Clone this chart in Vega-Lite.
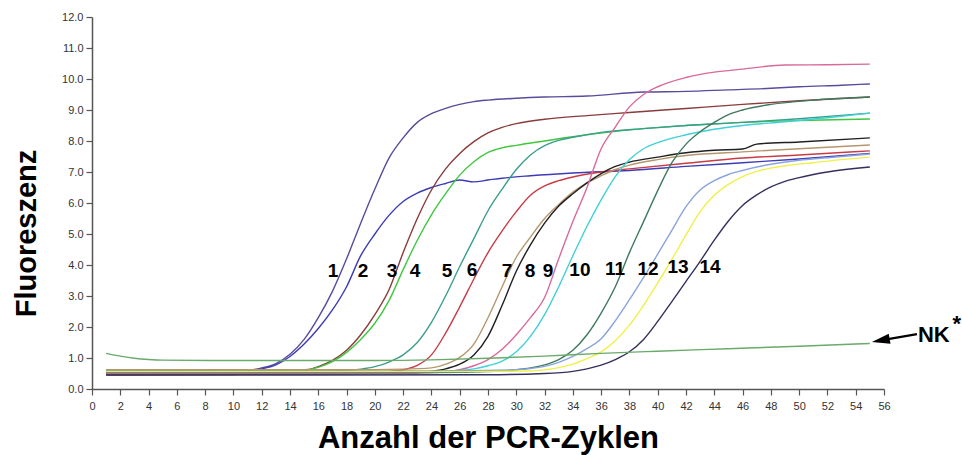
{
  "$schema": "https://vega.github.io/schema/vega-lite/v6.json",
  "width": 792,
  "height": 372,
  "autosize": {"type": "none"},
  "padding": {"left": 92, "top": 17, "right": 78, "bottom": 66},
  "background": "white",
  "config": {
    "view": {"stroke": null},
    "font": "Liberation Sans",
    "axis": {
      "grid": false,
      "domainColor": "#555555",
      "domainWidth": 1.5,
      "tickColor": "#555555",
      "tickWidth": 1.2,
      "tickSize": 6,
      "labelFont": "Liberation Sans",
      "labelFontSize": 11,
      "labelColor": "#333333",
      "labelFlush": false,
      "labelOverlap": false,
      "titleFont": "Liberation Sans",
      "titleFontWeight": "bold",
      "titleColor": "#000000"
    }
  },
  "datasets": {
    "curves": [
      {"id":"1","cyc":1,"fl":0.55},{"id":"1","cyc":8,"fl":0.55},{"id":"1","cyc":11,"fl":0.6},{"id":"1","cyc":12,"fl":0.68},{"id":"1","cyc":13,"fl":0.82},{"id":"1","cyc":14,"fl":1.12},{"id":"1","cyc":15,"fl":1.6},{"id":"1","cyc":16,"fl":2.3},{"id":"1","cyc":17,"fl":3.15},{"id":"1","cyc":18,"fl":4.2},{"id":"1","cyc":19,"fl":5.35},{"id":"1","cyc":20,"fl":6.45},{"id":"1","cyc":21,"fl":7.45},{"id":"1","cyc":22,"fl":8.1},{"id":"1","cyc":23,"fl":8.6},{"id":"1","cyc":24,"fl":8.88},{"id":"1","cyc":25,"fl":9.05},{"id":"1","cyc":26,"fl":9.18},{"id":"1","cyc":27,"fl":9.27},{"id":"1","cyc":28,"fl":9.32},{"id":"1","cyc":30,"fl":9.38},{"id":"1","cyc":32,"fl":9.42},{"id":"1","cyc":35,"fl":9.45},{"id":"1","cyc":39,"fl":9.58},{"id":"1","cyc":42,"fl":9.6},{"id":"1","cyc":45,"fl":9.65},{"id":"1","cyc":48,"fl":9.7},{"id":"1","cyc":50,"fl":9.75},{"id":"1","cyc":53,"fl":9.8},{"id":"1","cyc":55,"fl":9.84},
      {"id":"2","cyc":1,"fl":0.52},{"id":"2","cyc":8,"fl":0.52},{"id":"2","cyc":11,"fl":0.58},{"id":"2","cyc":12,"fl":0.65},{"id":"2","cyc":13,"fl":0.78},{"id":"2","cyc":14,"fl":1.05},{"id":"2","cyc":15,"fl":1.45},{"id":"2","cyc":16,"fl":1.95},{"id":"2","cyc":17,"fl":2.55},{"id":"2","cyc":18,"fl":3.3},{"id":"2","cyc":19,"fl":4.3},{"id":"2","cyc":20,"fl":5.0},{"id":"2","cyc":21,"fl":5.6},{"id":"2","cyc":22,"fl":6.05},{"id":"2","cyc":23,"fl":6.32},{"id":"2","cyc":24,"fl":6.5},{"id":"2","cyc":25,"fl":6.63},{"id":"2","cyc":26,"fl":6.74},{"id":"2","cyc":27,"fl":6.68},{"id":"2","cyc":28,"fl":6.74},{"id":"2","cyc":29,"fl":6.8},{"id":"2","cyc":31,"fl":6.88},{"id":"2","cyc":34,"fl":6.97},{"id":"2","cyc":38,"fl":7.05},{"id":"2","cyc":42,"fl":7.18},{"id":"2","cyc":46,"fl":7.3},{"id":"2","cyc":50,"fl":7.42},{"id":"2","cyc":55,"fl":7.6},
      {"id":"3","cyc":1,"fl":0.45},{"id":"3","cyc":10,"fl":0.47},{"id":"3","cyc":14,"fl":0.5},{"id":"3","cyc":15,"fl":0.58},{"id":"3","cyc":16,"fl":0.72},{"id":"3","cyc":17,"fl":0.92},{"id":"3","cyc":18,"fl":1.25},{"id":"3","cyc":19,"fl":1.75},{"id":"3","cyc":20,"fl":2.4},{"id":"3","cyc":21,"fl":3.2},{"id":"3","cyc":22,"fl":4.4},{"id":"3","cyc":23,"fl":5.5},{"id":"3","cyc":24,"fl":6.42},{"id":"3","cyc":25,"fl":7.1},{"id":"3","cyc":26,"fl":7.6},{"id":"3","cyc":27,"fl":7.98},{"id":"3","cyc":28,"fl":8.26},{"id":"3","cyc":29,"fl":8.44},{"id":"3","cyc":30,"fl":8.56},{"id":"3","cyc":32,"fl":8.7},{"id":"3","cyc":35,"fl":8.82},{"id":"3","cyc":38,"fl":8.92},{"id":"3","cyc":42,"fl":9.05},{"id":"3","cyc":46,"fl":9.18},{"id":"3","cyc":50,"fl":9.3},{"id":"3","cyc":55,"fl":9.42},
      {"id":"4","cyc":1,"fl":0.6},{"id":"4","cyc":12,"fl":0.6},{"id":"4","cyc":15,"fl":0.62},{"id":"4","cyc":16,"fl":0.7},{"id":"4","cyc":17,"fl":0.88},{"id":"4","cyc":18,"fl":1.18},{"id":"4","cyc":19,"fl":1.6},{"id":"4","cyc":20,"fl":2.12},{"id":"4","cyc":21,"fl":2.85},{"id":"4","cyc":22,"fl":3.85},{"id":"4","cyc":23,"fl":4.8},{"id":"4","cyc":24,"fl":5.62},{"id":"4","cyc":25,"fl":6.3},{"id":"4","cyc":26,"fl":6.9},{"id":"4","cyc":27,"fl":7.33},{"id":"4","cyc":28,"fl":7.63},{"id":"4","cyc":29,"fl":7.78},{"id":"4","cyc":30,"fl":7.86},{"id":"4","cyc":32,"fl":8.0},{"id":"4","cyc":35,"fl":8.2},{"id":"4","cyc":38,"fl":8.36},{"id":"4","cyc":42,"fl":8.5},{"id":"4","cyc":46,"fl":8.6},{"id":"4","cyc":50,"fl":8.66},{"id":"4","cyc":55,"fl":8.71},
      {"id":"5","cyc":1,"fl":0.57},{"id":"5","cyc":15,"fl":0.57},{"id":"5","cyc":18,"fl":0.6},{"id":"5","cyc":19,"fl":0.64},{"id":"5","cyc":20,"fl":0.72},{"id":"5","cyc":21,"fl":0.87},{"id":"5","cyc":22,"fl":1.1},{"id":"5","cyc":23,"fl":1.5},{"id":"5","cyc":24,"fl":2.15},{"id":"5","cyc":25,"fl":3.0},{"id":"5","cyc":26,"fl":3.95},{"id":"5","cyc":27,"fl":4.85},{"id":"5","cyc":28,"fl":5.75},{"id":"5","cyc":29,"fl":6.45},{"id":"5","cyc":30,"fl":7.08},{"id":"5","cyc":31,"fl":7.55},{"id":"5","cyc":32,"fl":7.85},{"id":"5","cyc":33,"fl":8.02},{"id":"5","cyc":34,"fl":8.12},{"id":"5","cyc":36,"fl":8.28},{"id":"5","cyc":39,"fl":8.4},{"id":"5","cyc":42,"fl":8.5},{"id":"5","cyc":46,"fl":8.6},{"id":"5","cyc":50,"fl":8.72},{"id":"5","cyc":55,"fl":8.9},
      {"id":"6","cyc":1,"fl":0.48},{"id":"6","cyc":15,"fl":0.48},{"id":"6","cyc":20,"fl":0.52},{"id":"6","cyc":21,"fl":0.56},{"id":"6","cyc":22,"fl":0.62},{"id":"6","cyc":23,"fl":0.76},{"id":"6","cyc":24,"fl":1.1},{"id":"6","cyc":25,"fl":1.8},{"id":"6","cyc":26,"fl":2.65},{"id":"6","cyc":27,"fl":3.55},{"id":"6","cyc":28,"fl":4.4},{"id":"6","cyc":29,"fl":5.1},{"id":"6","cyc":30,"fl":5.72},{"id":"6","cyc":31,"fl":6.25},{"id":"6","cyc":32,"fl":6.55},{"id":"6","cyc":33,"fl":6.72},{"id":"6","cyc":34,"fl":6.84},{"id":"6","cyc":36,"fl":7.0},{"id":"6","cyc":38,"fl":7.1},{"id":"6","cyc":42,"fl":7.28},{"id":"6","cyc":46,"fl":7.45},{"id":"6","cyc":50,"fl":7.55},{"id":"6","cyc":55,"fl":7.68},
      {"id":"7","cyc":1,"fl":0.62},{"id":"7","cyc":18,"fl":0.62},{"id":"7","cyc":22,"fl":0.64},{"id":"7","cyc":24,"fl":0.68},{"id":"7","cyc":25,"fl":0.8},{"id":"7","cyc":26,"fl":1.02},{"id":"7","cyc":27,"fl":1.45},{"id":"7","cyc":28,"fl":2.3},{"id":"7","cyc":29,"fl":3.3},{"id":"7","cyc":30,"fl":4.25},{"id":"7","cyc":31,"fl":4.9},{"id":"7","cyc":32,"fl":5.5},{"id":"7","cyc":33,"fl":5.95},{"id":"7","cyc":34,"fl":6.35},{"id":"7","cyc":35,"fl":6.65},{"id":"7","cyc":36,"fl":6.88},{"id":"7","cyc":37,"fl":7.08},{"id":"7","cyc":38,"fl":7.22},{"id":"7","cyc":40,"fl":7.4},{"id":"7","cyc":42,"fl":7.53},{"id":"7","cyc":46,"fl":7.65},{"id":"7","cyc":50,"fl":7.75},{"id":"7","cyc":55,"fl":7.87},
      {"id":"8","cyc":1,"fl":0.5},{"id":"8","cyc":18,"fl":0.5},{"id":"8","cyc":23,"fl":0.53},{"id":"8","cyc":24,"fl":0.57},{"id":"8","cyc":25,"fl":0.65},{"id":"8","cyc":26,"fl":0.8},{"id":"8","cyc":27,"fl":1.1},{"id":"8","cyc":28,"fl":1.7},{"id":"8","cyc":29,"fl":2.7},{"id":"8","cyc":30,"fl":3.8},{"id":"8","cyc":31,"fl":4.65},{"id":"8","cyc":32,"fl":5.35},{"id":"8","cyc":33,"fl":5.9},{"id":"8","cyc":34,"fl":6.3},{"id":"8","cyc":35,"fl":6.65},{"id":"8","cyc":36,"fl":6.95},{"id":"8","cyc":37,"fl":7.18},{"id":"8","cyc":38,"fl":7.32},{"id":"8","cyc":40,"fl":7.48},{"id":"8","cyc":42,"fl":7.62},{"id":"8","cyc":44,"fl":7.7},{"id":"8","cyc":46,"fl":7.74},{"id":"8","cyc":47,"fl":7.9},{"id":"8","cyc":50,"fl":7.97},{"id":"8","cyc":55,"fl":8.1},
      {"id":"9","cyc":1,"fl":0.5},{"id":"9","cyc":20,"fl":0.5},{"id":"9","cyc":25,"fl":0.55},{"id":"9","cyc":26,"fl":0.62},{"id":"9","cyc":27,"fl":0.75},{"id":"9","cyc":28,"fl":0.95},{"id":"9","cyc":29,"fl":1.28},{"id":"9","cyc":30,"fl":1.75},{"id":"9","cyc":31,"fl":2.3},{"id":"9","cyc":32,"fl":2.95},{"id":"9","cyc":33,"fl":4.2},{"id":"9","cyc":34,"fl":5.4},{"id":"9","cyc":35,"fl":6.5},{"id":"9","cyc":36,"fl":7.75},{"id":"9","cyc":37,"fl":8.45},{"id":"9","cyc":38,"fl":9.1},{"id":"9","cyc":39,"fl":9.5},{"id":"9","cyc":40,"fl":9.75},{"id":"9","cyc":42,"fl":10.05},{"id":"9","cyc":44,"fl":10.22},{"id":"9","cyc":46,"fl":10.32},{"id":"9","cyc":49,"fl":10.45},{"id":"9","cyc":52,"fl":10.46},{"id":"9","cyc":55,"fl":10.48},
      {"id":"10","cyc":1,"fl":0.55},{"id":"10","cyc":20,"fl":0.55},{"id":"10","cyc":25,"fl":0.57},{"id":"10","cyc":26,"fl":0.6},{"id":"10","cyc":27,"fl":0.65},{"id":"10","cyc":28,"fl":0.75},{"id":"10","cyc":29,"fl":0.9},{"id":"10","cyc":30,"fl":1.2},{"id":"10","cyc":31,"fl":1.7},{"id":"10","cyc":32,"fl":2.4},{"id":"10","cyc":33,"fl":3.3},{"id":"10","cyc":34,"fl":4.3},{"id":"10","cyc":35,"fl":5.25},{"id":"10","cyc":36,"fl":6.1},{"id":"10","cyc":37,"fl":6.85},{"id":"10","cyc":38,"fl":7.4},{"id":"10","cyc":39,"fl":7.75},{"id":"10","cyc":40,"fl":7.95},{"id":"10","cyc":42,"fl":8.2},{"id":"10","cyc":44,"fl":8.38},{"id":"10","cyc":46,"fl":8.5},{"id":"10","cyc":49,"fl":8.62},{"id":"10","cyc":52,"fl":8.75},{"id":"10","cyc":55,"fl":8.9},
      {"id":"11","cyc":1,"fl":0.53},{"id":"11","cyc":24,"fl":0.53},{"id":"11","cyc":29,"fl":0.58},{"id":"11","cyc":30,"fl":0.62},{"id":"11","cyc":31,"fl":0.68},{"id":"11","cyc":32,"fl":0.78},{"id":"11","cyc":33,"fl":0.95},{"id":"11","cyc":34,"fl":1.25},{"id":"11","cyc":35,"fl":1.75},{"id":"11","cyc":36,"fl":2.45},{"id":"11","cyc":37,"fl":3.3},{"id":"11","cyc":38,"fl":4.4},{"id":"11","cyc":39,"fl":5.4},{"id":"11","cyc":40,"fl":6.4},{"id":"11","cyc":41,"fl":7.3},{"id":"11","cyc":42,"fl":7.9},{"id":"11","cyc":43,"fl":8.3},{"id":"11","cyc":44,"fl":8.6},{"id":"11","cyc":45,"fl":8.85},{"id":"11","cyc":46,"fl":9.0},{"id":"11","cyc":48,"fl":9.18},{"id":"11","cyc":51,"fl":9.32},{"id":"11","cyc":55,"fl":9.42},
      {"id":"12","cyc":1,"fl":0.58},{"id":"12","cyc":24,"fl":0.58},{"id":"12","cyc":30,"fl":0.62},{"id":"12","cyc":31,"fl":0.66},{"id":"12","cyc":32,"fl":0.73},{"id":"12","cyc":33,"fl":0.86},{"id":"12","cyc":34,"fl":1.05},{"id":"12","cyc":35,"fl":1.3},{"id":"12","cyc":36,"fl":1.62},{"id":"12","cyc":37,"fl":2.2},{"id":"12","cyc":38,"fl":2.88},{"id":"12","cyc":39,"fl":3.6},{"id":"12","cyc":40,"fl":4.35},{"id":"12","cyc":41,"fl":5.12},{"id":"12","cyc":42,"fl":5.88},{"id":"12","cyc":43,"fl":6.42},{"id":"12","cyc":44,"fl":6.72},{"id":"12","cyc":45,"fl":6.92},{"id":"12","cyc":46,"fl":7.05},{"id":"12","cyc":48,"fl":7.25},{"id":"12","cyc":50,"fl":7.38},{"id":"12","cyc":52,"fl":7.46},{"id":"12","cyc":55,"fl":7.58},
      {"id":"13","cyc":1,"fl":0.56},{"id":"13","cyc":26,"fl":0.56},{"id":"13","cyc":31,"fl":0.58},{"id":"13","cyc":32,"fl":0.62},{"id":"13","cyc":33,"fl":0.69},{"id":"13","cyc":34,"fl":0.8},{"id":"13","cyc":35,"fl":0.98},{"id":"13","cyc":36,"fl":1.2},{"id":"13","cyc":37,"fl":1.56},{"id":"13","cyc":38,"fl":2.06},{"id":"13","cyc":39,"fl":2.7},{"id":"13","cyc":40,"fl":3.42},{"id":"13","cyc":41,"fl":4.18},{"id":"13","cyc":42,"fl":4.97},{"id":"13","cyc":43,"fl":5.72},{"id":"13","cyc":44,"fl":6.25},{"id":"13","cyc":45,"fl":6.6},{"id":"13","cyc":46,"fl":6.85},{"id":"13","cyc":47,"fl":7.02},{"id":"13","cyc":49,"fl":7.2},{"id":"13","cyc":51,"fl":7.3},{"id":"13","cyc":53,"fl":7.4},{"id":"13","cyc":55,"fl":7.48},
      {"id":"14","cyc":1,"fl":0.45},{"id":"14","cyc":28,"fl":0.46},{"id":"14","cyc":32,"fl":0.5},{"id":"14","cyc":34,"fl":0.57},{"id":"14","cyc":35,"fl":0.65},{"id":"14","cyc":36,"fl":0.77},{"id":"14","cyc":37,"fl":0.95},{"id":"14","cyc":38,"fl":1.2},{"id":"14","cyc":39,"fl":1.6},{"id":"14","cyc":40,"fl":2.18},{"id":"14","cyc":41,"fl":2.82},{"id":"14","cyc":42,"fl":3.47},{"id":"14","cyc":43,"fl":4.12},{"id":"14","cyc":44,"fl":4.8},{"id":"14","cyc":45,"fl":5.42},{"id":"14","cyc":46,"fl":5.92},{"id":"14","cyc":47,"fl":6.26},{"id":"14","cyc":48,"fl":6.52},{"id":"14","cyc":49,"fl":6.7},{"id":"14","cyc":50,"fl":6.82},{"id":"14","cyc":52,"fl":7.0},{"id":"14","cyc":55,"fl":7.16},
      {"id":"NK","cyc":1,"fl":1.15},{"id":"NK","cyc":2,"fl":1.06},{"id":"NK","cyc":3,"fl":0.99},{"id":"NK","cyc":4,"fl":0.95},{"id":"NK","cyc":5,"fl":0.93},{"id":"NK","cyc":10,"fl":0.92},{"id":"NK","cyc":20,"fl":0.92},{"id":"NK","cyc":24,"fl":0.94},{"id":"NK","cyc":28,"fl":0.99},{"id":"NK","cyc":32,"fl":1.06},{"id":"NK","cyc":36,"fl":1.15},{"id":"NK","cyc":40,"fl":1.22},{"id":"NK","cyc":45,"fl":1.3},{"id":"NK","cyc":50,"fl":1.38},{"id":"NK","cyc":55,"fl":1.47}
    ],
    "labels": [
      {"lab":"1","cyc":17.04,"fl":3.8},
      {"lab":"2","cyc":19.16,"fl":3.8},
      {"lab":"3","cyc":21.21,"fl":3.8},
      {"lab":"4","cyc":22.84,"fl":3.8},
      {"lab":"5","cyc":25.1,"fl":3.82},
      {"lab":"6","cyc":26.87,"fl":3.85},
      {"lab":"7","cyc":29.34,"fl":3.82},
      {"lab":"8","cyc":30.97,"fl":3.82},
      {"lab":"9","cyc":32.24,"fl":3.82},
      {"lab":"10","cyc":34.5,"fl":3.85},
      {"lab":"11","cyc":36.98,"fl":3.88},
      {"lab":"12","cyc":39.31,"fl":3.88},
      {"lab":"13","cyc":41.43,"fl":3.92},
      {"lab":"14","cyc":43.7,"fl":3.92}
    ],
    "arrow": [
      {"cyc":55.77,"fl":1.568,"cyc2":58.33,"fl2":1.77}
    ],
    "note": [
      {"lab":"NK","cyc":58.4,"fl":1.52},
      {"lab":"*","cyc":60.85,"fl":1.87}
    ]
  },
  "encoding": {
    "x": {
      "field": "cyc", "type": "quantitative",
      "scale": {"domain": [0, 56], "nice": false, "zero": false},
      "axis": {
        "values": [0,2,4,6,8,10,12,14,16,18,20,22,24,26,28,30,32,34,36,38,40,42,44,46,48,50,52,54,56],
        "labelPadding": 5,
        "title": "Anzahl der PCR-Zyklen",
        "titleFontSize": 31,
        "titleY": 49,
        "titleBaseline": "middle"
      }
    },
    "y": {
      "field": "fl", "type": "quantitative",
      "scale": {"domain": [0, 12], "nice": false},
      "axis": {
        "values": [0,1,2,3,4,5,6,7,8,9,10,11,12],
        "format": ".1f",
        "labelPadding": 3,
        "title": "Fluoreszenz",
        "titleFontSize": 29,
        "titleX": -66,
        "titleY": 216,
        "titleAngle": -90,
        "titleAlign": "center",
        "titleBaseline": "middle"
      }
    }
  },
  "layer": [
    {
      "data": {"name": "curves"},
      "mark": {"type": "line", "strokeWidth": 1.4, "interpolate": "monotone"},
      "encoding": {
        "color": {
          "field": "id", "type": "nominal",
          "scale": {
            "domain": ["1","2","3","4","5","6","7","8","9","10","11","12","13","14","NK"],
            "range": ["#5a4b9b","#3c3cb4","#8a3b3b","#3fc83f","#3a9e8c","#c83c46","#b5966e","#202020","#d86a9a","#40d0d8","#3e7a5e","#8aa4dc","#f0f048","#34305e","#6aaa6a"]
          },
          "legend": null
        },
        "order": {"field": "cyc", "type": "quantitative"}
      }
    },
    {
      "data": {"name": "labels"},
      "mark": {"type": "text", "font": "Liberation Sans", "fontWeight": "bold", "fontSize": 19, "align": "center", "baseline": "middle", "color": "#000000"},
      "encoding": {
        "text": {"field": "lab"}
      }
    },
    {
      "data": {"name": "arrow"},
      "mark": {"type": "rule", "color": "#000000", "strokeWidth": 2.2, "clip": false},
      "encoding": {
        "x2": {"field": "cyc2"},
        "y2": {"field": "fl2"}
      }
    },
    {
      "data": {"name": "arrow"},
      "mark": {"type": "point", "shape": "M-1,0L1,-0.56L1,0.56Z", "filled": true, "color": "#000000", "opacity": 1, "size": 324, "angle": -10, "clip": false}
    },
    {
      "data": {"name": "note"},
      "mark": {"type": "text", "font": "Liberation Sans", "fontWeight": "bold", "fontSize": 22, "align": "left", "baseline": "alphabetic", "color": "#000000", "clip": false},
      "encoding": {
        "text": {"field": "lab"}
      }
    }
  ]
}
